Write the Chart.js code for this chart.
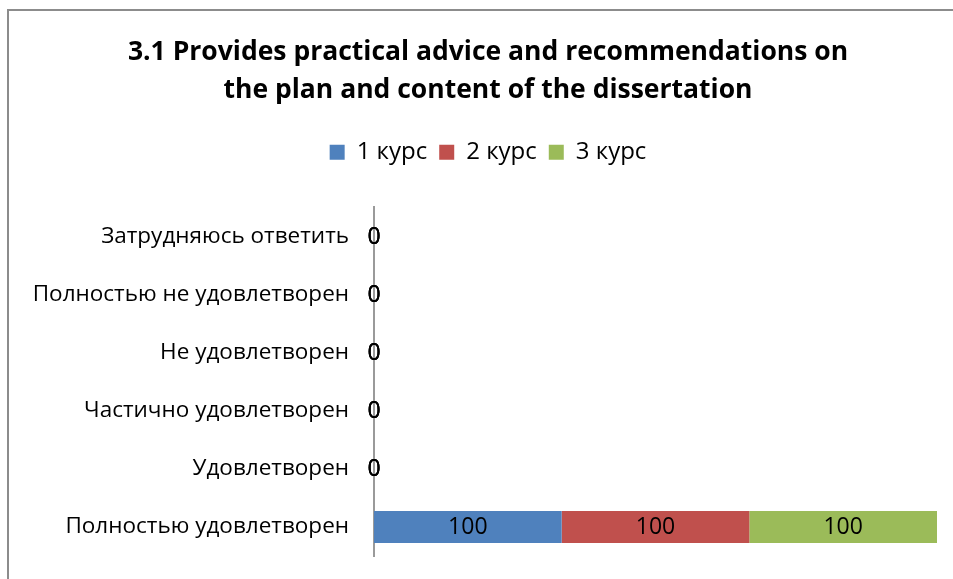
<!DOCTYPE html>
<html>
<head>
<meta charset="utf-8">
<script src="https://cdn.jsdelivr.net/npm/chart.js@4"></script>
<style>
  html, body { margin: 0; padding: 0; background: #fff; overflow: hidden; }
  #wrap { width: 953px; height: 579px; }
</style>
</head>
<body>
<div id="wrap"><canvas id="surveyChart" width="953" height="579"></canvas></div>
<script>
// Categories (top to bottom) and values per course
const categories = ['Затрудняюсь ответить', 'Полностью не удовлетворен', 'Не удовлетворен',
                    'Частично удовлетворен', 'Удовлетворен', 'Полностью удовлетворен'];
const course1 = [0, 0, 0, 0, 0, 100];
const course2 = [0, 0, 0, 0, 0, 100];
const course3 = [0, 0, 0, 0, 0, 100];
const seriesNames = ['1 курс', '2 курс', '3 курс'];
const seriesColors = ['#4f81bd', '#c0504d', '#9bbb59'];

const font = '"Open Sans", "Noto Sans", sans-serif';

// white page + grey frame like the Excel chart area
const framePlugin = {
  id: 'frame',
  beforeDraw(chart) {
    const c = chart.ctx;
    c.save();
    c.fillStyle = '#fff';
    c.fillRect(0, 0, chart.width, chart.height);
    c.strokeStyle = '#8c8c8c';
    c.lineWidth = 2;
    c.strokeRect(8, 10, chart.width + 20, chart.height + 20);
    c.restore();
  },
  // let long category labels run into the left padding instead of being clipped
  afterLayout(chart) {
    chart.scales.y.left = 0;
  }
};

// extra room between legend and plot
const legendGap = {
  id: 'legendGap',
  beforeInit(chart) {
    const fit = chart.legend.fit;
    chart.legend.fit = function () {
      fit.bind(chart.legend)();
      this.height += 33;
    };
  }
};

// value labels in the middle of every segment
const valueLabels = {
  id: 'valueLabels',
  afterDatasetsDraw(chart) {
    const c = chart.ctx;
    c.save();
    c.font = '23px ' + font;
    c.fillStyle = '#000';
    c.textAlign = 'center';
    c.textBaseline = 'middle';
    chart.data.datasets.forEach((ds, i) => {
      chart.getDatasetMeta(i).data.forEach((bar, j) => {
        const x = (bar.x + bar.base) / 2;
        c.fillText(String(ds.data[j]), x, bar.y + 1);
      });
    });
    c.restore();
  }
};

const ctx = document.getElementById('surveyChart').getContext('2d');
const chart = new Chart(ctx, {
  type: 'bar',
  data: {
    labels: categories,
    datasets: [
      { label: seriesNames[0], data: course1, backgroundColor: seriesColors[0] },
      { label: seriesNames[1], data: course2, backgroundColor: seriesColors[1] },
      { label: seriesNames[2], data: course3, backgroundColor: seriesColors[2] }
    ]
  },
  options: {
    indexAxis: 'y',
    responsive: false,
    animation: false,
    layout: { padding: { top: 34, right: 16, bottom: 23, left: 39 } },
    datasets: { bar: { categoryPercentage: 1, barPercentage: 0.55 } },
    scales: {
      x: { stacked: true, display: false, min: 0, max: 300 },
      y: {
        stacked: true,
        grid: { display: false, drawTicks: false },
        border: { display: true, color: '#9a9a9a', width: 2 },
        ticks: { color: '#000', padding: 25, font: { family: font, size: 22.5 } },
        afterFit(scale) {
          scale.width = 335;
          scale.paddingTop = 0;
          scale.paddingBottom = 0;
        }
      }
    },
    plugins: {
      title: {
        display: true,
        text: ['3.1 Provides practical advice and recommendations on',
               'the plan and content of the dissertation'],
        color: '#000',
        font: { family: font, size: 26.5, weight: 'bold', lineHeight: 1.42 },
        padding: { top: 0, bottom: 19 }
      },
      legend: {
        display: true,
        position: 'top',
        labels: {
          color: '#000',
          boxWidth: 15, boxHeight: 15,
          padding: 12,
          font: { family: font, size: 24 }
        }
      },
      tooltip: { enabled: false }
    }
  },
  plugins: [framePlugin, legendGap, valueLabels]
});
</script>
</body>
</html>
